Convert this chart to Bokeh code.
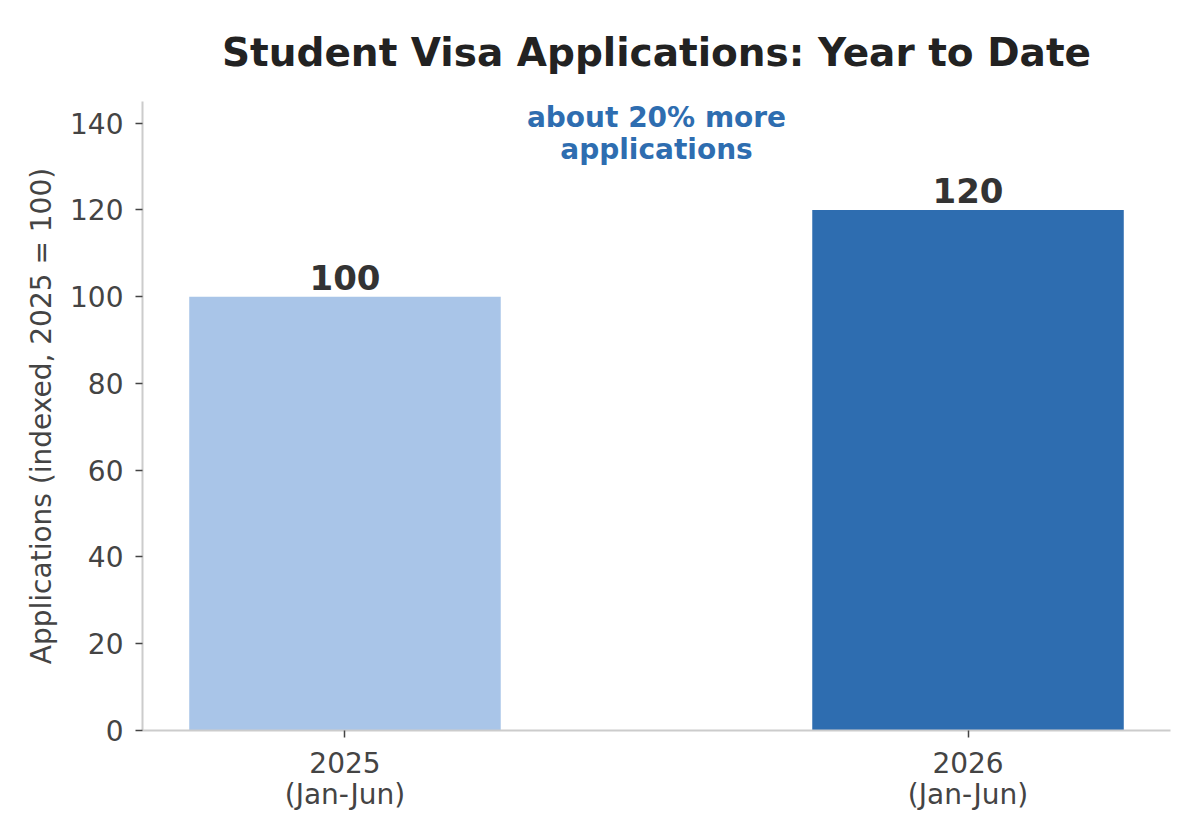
from bokeh.plotting import figure
from bokeh.models import Range1d, FixedTicker, ColumnDataSource
from bokeh.core.properties import value
from bokeh.embed import file_html
from bokeh.resources import INLINE

# ---- data ----
categories = ["2025\n(Jan-Jun)", "2026\n(Jan-Jun)"]
values = [100, 120]
bar_colors = ["#A9C5E8", "#2E6DB0"]
value_labels = ["100", "120"]
y_ticks = [0, 20, 40, 60, 80, 100, 120, 140]
title_text = "Student Visa Applications: Year to Date"
y_label = "Applications (indexed, 2025 = 100)"
annotation_lines = ["about 20% more", "applications"]

FONT = "DejaVu Sans"
x_pos = list(range(len(categories)))

p = figure(width=1200, height=840, output_backend="svg", toolbar_location=None,
           x_range=Range1d(-0.325, len(categories) - 1 + 0.325),
           y_range=Range1d(0, 145),
           min_border_left=142, min_border_right=30, min_border_top=101,
           min_border_bottom=110)

p.outline_line_color = None
p.xgrid.visible = False
p.ygrid.visible = False
p.background_fill_color = "white"
p.border_fill_color = "white"

# title
p.title.text = title_text
p.title.align = "center"
p.title.text_font = FONT
p.title.text_font_size = "39px"
p.title.text_font_style = "bold"
p.title.text_color = "#222222"
p.title.standoff = 54

src = ColumnDataSource(dict(x=x_pos, top=values, color=bar_colors, label=value_labels))
p.vbar(x="x", top="top", width=0.5, bottom=0, fill_color="color", line_color=None, source=src)

p.text(x="x", y="top", text="label", source=src, text_font=value(FONT),
       text_font_size="34px", text_font_style="bold", text_color="#333333",
       text_align="center", text_baseline="alphabetic", y_offset=-19)

# annotation
ann_x = sum(x_pos) / len(x_pos)
for i, line in enumerate(annotation_lines):
    p.text(x=[ann_x], y=[p.y_range.end], text=[line], text_font=value(FONT),
           text_font_size="28px", text_font_style="bold", text_color="#2E6DB0",
           text_align="center", text_baseline="alphabetic", y_offset=16 + 32 * i)

# axes
for ax in (p.xaxis[0], p.yaxis[0]):
    ax.axis_line_color = "#cccccc"
    ax.axis_line_width = 2
    ax.major_tick_line_color = "#444444"
    ax.major_tick_line_width = 1.5
    ax.major_tick_out = 7
    ax.major_tick_in = 0
    ax.minor_tick_line_color = None
    ax.major_label_text_font = FONT
    ax.major_label_text_font_size = "28px"
    ax.major_label_text_color = "#444444"

p.xaxis.ticker = FixedTicker(ticks=x_pos)
p.xaxis.major_label_overrides = {x: c for x, c in zip(x_pos, categories)}
p.xaxis.major_label_standoff = 9
p.xaxis.major_label_text_line_height = 0.95

p.yaxis.ticker = FixedTicker(ticks=y_ticks)
p.yaxis.major_label_standoff = 12
p.yaxis.axis_label = y_label
p.yaxis.axis_label_text_font = FONT
p.yaxis.axis_label_text_font_size = "28px"
p.yaxis.axis_label_text_font_style = "normal"
p.yaxis.axis_label_text_color = "#444444"
p.yaxis.axis_label_standoff = 9

open("out.html", "w").write(file_html(p, INLINE))
